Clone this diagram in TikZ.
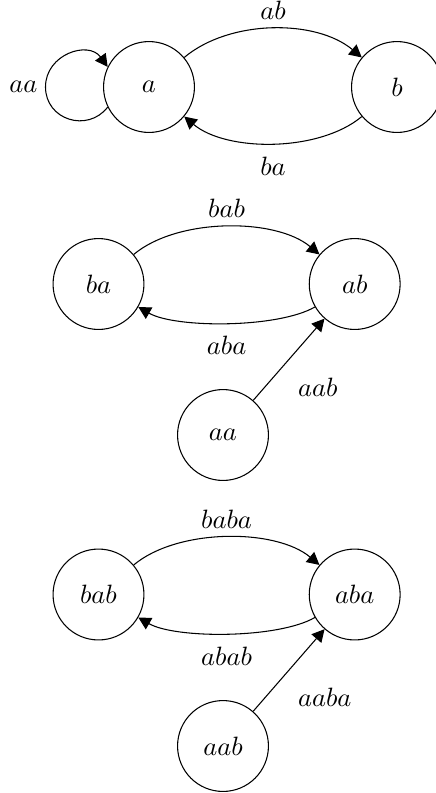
\documentclass[tikz,border=0pt]{standalone}
\usetikzlibrary{arrows.meta}
\begin{document}
\begin{tikzpicture}[x=0.3774pt,y=-0.3774pt,
  state/.style={circle,draw,minimum size=34.3pt,inner sep=0pt},
  edge/.style={-{Triangle[length=4.7pt,width=4.9pt]}},
  slab/.style={anchor=north west,inner sep=0pt,xshift=3.3pt,yshift=-6.7pt}]
\useasboundingbox (0,0) rectangle (436,793);
% panel 1
\node[state] (a) at (149,87) {$a$};
\node[state] (b) at (397,87) {$b$};
\coordinate (lp) at (45.5,87);
\draw[edge] (a.206) to[out=232,in=270,distance=12.4pt] node[pos=1,left,inner sep=0pt,xshift=-2.9pt] (laa) {$aa$} (lp)
  to[out=90,in=126,distance=12.4pt] (a.154);
\draw[edge] (a) to[out=40,in=140,looseness=0.86] node[above] (lab) {$ab$} (b);
\draw[edge] (b) to[out=220,in=320,looseness=0.8] node[below=1.8pt] (lba) {$ba$} (a);
% panel 2
\node[state] (ba) at (98.5,284) {$ba$};
\node[state] (ab) at (354.7,284) {$ab$};
\node[state] (aa) at (223,435) {$aa$};
\draw[edge] (ba) to[out=40,in=140,looseness=0.79] node[above] (lbab) {$bab$} (ab);
\draw[edge] (ab) to[out=210,in=330,looseness=0.62] node[below=1.5pt] (laba) {$aba$} (ba);
\draw[edge] (aa) -- node[midway,slab] (laab) {$aab$} (ab);
% panel 3
\node[state] (bab) at (98.5,594.5) {$bab$};
\node[state] (aba) at (354.7,594.5) {$aba$};
\node[state] (aab) at (223,746) {$aab$};
\draw[edge] (bab) to[out=40,in=140,looseness=0.79] node[above] (lbaba) {$baba$} (aba);
\draw[edge] (aba) to[out=210,in=330,looseness=0.62] node[below=1.5pt] (labab) {$abab$} (bab);
\draw[edge] (aab) -- node[midway,slab] (laaba) {$aaba$} (aba);
\end{tikzpicture}
\end{document}
